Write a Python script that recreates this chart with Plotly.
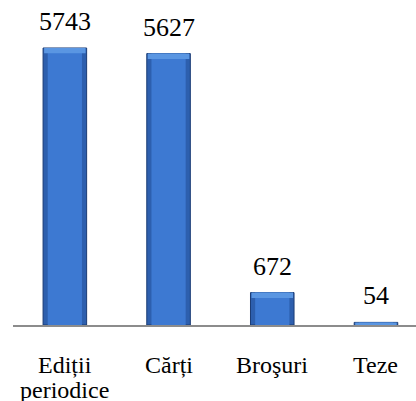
import plotly.graph_objects as go

categories = ["Ediții periodice", "Cărți", "Broşuri", "Teze"]
category_lines = [["Ediții", "periodice"], ["Cărți"], ["Broşuri"], ["Teze"]]
values = [5743, 5627, 672, 54]
labels = ["5743", "5627", "672", "54"]

FONT = "Liberation Serif, Times New Roman, serif"
BEVEL = 110

fig = go.Figure()
fig.add_trace(go.Bar(
    x=categories, y=values, width=0.42,
    marker=dict(color="#2d5fae", line=dict(color="#1b3c75", width=1)),
    hoverinfo="skip",
))
fig.add_trace(go.Bar(
    x=categories, y=values, width=0.33,
    marker=dict(color="#3d79d2", line=dict(width=0)),
    hoverinfo="skip",
))
bev = [min(v, BEVEL) for v in values]
fig.add_trace(go.Bar(
    x=categories, y=bev, base=[v - b for v, b in zip(values, bev)], width=0.40,
    marker=dict(color="#5a96e2", line=dict(width=0)),
    hoverinfo="skip",
))

for c, v, t in zip(categories, values, labels):
    fig.add_annotation(x=c, y=v, text=t, showarrow=False, yanchor="bottom",
                       yshift=10, font=dict(family=FONT, size=26, color="#000000"))

for c, lines in zip(categories, category_lines):
    for i, line in enumerate(lines):
        fig.add_annotation(x=c, y=0, text=line, showarrow=False, yanchor="top",
                           yshift=-25 - 25 * i,
                           font=dict(family=FONT, size=24, color="#000000"))

fig.update_layout(
    width=416, height=401,
    margin=dict(l=13, r=0, t=0, b=76, autoexpand=False),
    barmode="overlay",
    showlegend=False,
    plot_bgcolor="white", paper_bgcolor="white",
    font=dict(family=FONT, size=22, color="#000000"),
)
fig.update_xaxes(range=[-0.5, 3.386], showline=True, linecolor="#8c8c8c", linewidth=2,
                 showticklabels=False, ticks="", automargin=False, showgrid=False)
fig.update_yaxes(range=[0, 6738], visible=False, showgrid=False, zeroline=False)

fig.write_html("out.html", config={"displayModeBar": False},
               post_script="document.body.style.margin='0';document.body.style.padding='0';")
